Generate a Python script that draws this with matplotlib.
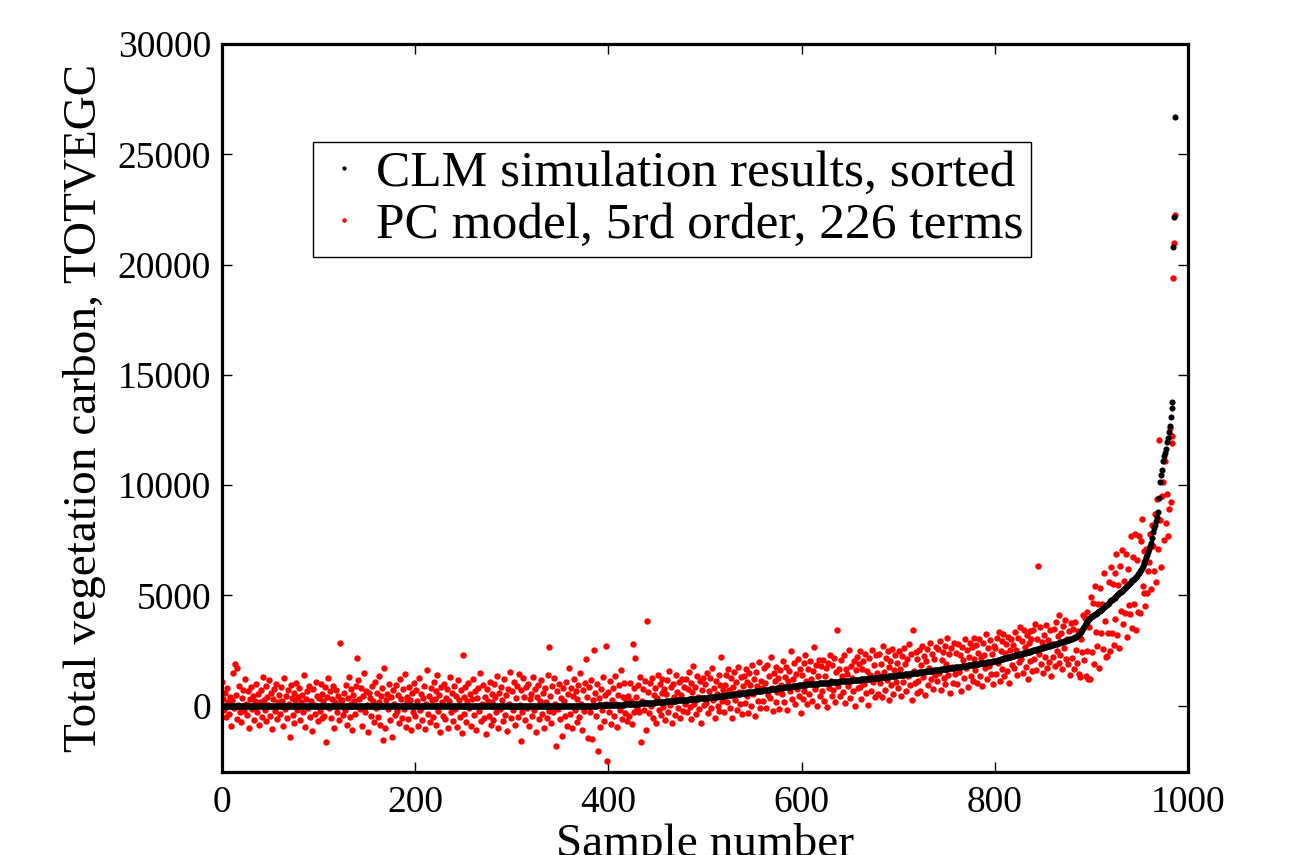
import numpy as np
import matplotlib
matplotlib.use("Agg")
import matplotlib.pyplot as plt

plt.rcParams["font.family"] = ["Liberation Serif", "DejaVu Serif"]

# CLM TOTVEGC per sample, sorted
CLM_SORTED = [
    0, 0, 0, 0, 0, 0, 0, 0, 0, 0, 0, 0, 0, 0, 0, 0, 0, 0, 0, 0,
    0, 0, 0, 0, 0, 0, 0, 0, 0, 0, 0, 0, 0, 0, 0, 0, 0, 0, 0, 0,
    0, 0, 0, 0, 0, 0, 0, 0, 0, 0, 0, 0, 0, 0, 0, 0, 0, 0, 0, 0,
    0, 0, 0, 0, 0, 0, 0, 0, 0, 0, 0, 0, 0, 0, 0, 0, 0, 0, 0, 0,
    0, 0, 0, 0, 0, 0, 0, 0, 0, 0, 0, 0, 0, 0, 0, 0, 0, 0, 0, 0,
    0, 0, 0, 0, 0, 0, 0, 0, 0, 0, 0, 0, 0, 0, 0, 0, 0, 0, 0, 0,
    0, 0, 0, 0, 0, 0, 0, 0, 0, 0, 0, 0, 0, 0, 0, 0, 0, 0, 0, 0,
    0, 0, 0, 0, 0, 0, 0, 0, 0, 0, 0, 0, 0, 0, 0, 0, 0, 0, 0, 0,
    0, 0, 0, 0, 0, 0, 0, 0, 0, 0, 0, 0, 0, 0, 0, 0, 0, 0, 0, 0,
    0, 0, 0, 0, 0, 0, 0, 0, 0, 0, 0, 0, 0, 0, 0, 0, 0, 0, 0, 0,
    0, 0, 0, 0, 0, 0, 0, 0, 0, 0, 0, 0, 0, 0, 0, 0, 0, 0, 0, 0,
    0, 0, 0, 0, 0, 0, 0, 0, 0, 0, 0, 0, 0, 0, 0, 0, 0, 0, 0, 0,
    0, 0, 0, 0, 0, 0, 0, 0, 0, 0, 0, 0, 0, 0, 0, 0, 0, 0, 0, 0,
    0, 0, 0, 0, 0, 0, 0, 0, 0, 0, 0, 0, 0, 0, 0, 0, 0, 0, 0, 0,
    0, 0, 0, 0, 0, 0, 0, 0, 0, 0, 0, 0, 0, 0, 0, 0, 0, 0, 0, 0,
    0, 0, 0, 0, 0, 0, 0, 0, 0, 0, 0, 0, 0, 0, 0, 0, 0, 0, 0, 0,
    0, 0, 0, 0, 0, 0, 0, 0, 0, 0, 0, 0, 0, 0, 0, 0, 0, 0, 0, 0,
    0, 0, 0, 0, 0, 0, 0, 0, 0, 0, 0, 0, 0, 0, 0, 0, 0, 0, 0, 0,
    0, 0, 0, 1, 1, 1, 2, 2, 2, 3, 3, 3, 4, 4, 5, 5, 6, 6, 7, 7,
    8, 8, 9, 10, 10, 11, 12, 13, 13, 14, 15, 16, 17, 18, 19, 20, 21, 22, 23, 24,
    25, 27, 29, 31, 33, 35, 37, 39, 41, 43, 45, 47, 49, 51, 53, 55, 57, 59, 61, 63,
    66, 69, 72, 75, 78, 81, 84, 87, 90, 93, 96, 99, 102, 105, 108, 111, 114, 117, 120, 123,
    126, 129, 132, 135, 138, 141, 144, 147, 150, 153, 157, 161, 165, 169, 173, 177, 181, 185, 189, 193,
    197, 201, 205, 209, 213, 217, 221, 225, 229, 233, 237, 241, 245, 249, 253, 257, 261, 265, 269, 273,
    277, 281, 285, 289, 293, 297, 301, 305, 309, 313, 317, 321, 325, 329, 333, 337, 341, 345, 349, 353,
    358, 363, 368, 373, 378, 383, 388, 393, 398, 403, 408, 413, 418, 423, 428, 433, 438, 443, 448, 453,
    459, 465, 471, 477, 483, 489, 495, 501, 507, 513, 519, 525, 531, 537, 543, 549, 555, 561, 567, 573,
    579, 585, 591, 597, 603, 609, 615, 621, 627, 633, 639, 645, 651, 657, 663, 669, 675, 681, 687, 693,
    699, 705, 711, 717, 723, 729, 735, 741, 747, 753, 759, 765, 771, 777, 783, 789, 795, 801, 807, 813,
    819, 825, 831, 837, 843, 849, 855, 861, 867, 873, 879, 885, 891, 897, 903, 909, 915, 921, 927, 933,
    938, 943, 948, 953, 958, 962, 966, 970, 974, 978, 982, 986, 990, 994, 998, 1002, 1006, 1010, 1014, 1018,
    1022, 1026, 1030, 1034, 1038, 1042, 1046, 1050, 1054, 1058, 1062, 1066, 1070, 1074, 1078, 1082, 1086, 1090, 1094, 1098,
    1102, 1106, 1110, 1114, 1118, 1122, 1126, 1130, 1134, 1138, 1142, 1146, 1150, 1154, 1158, 1162, 1166, 1170, 1174, 1178,
    1182, 1187, 1192, 1197, 1202, 1207, 1212, 1217, 1222, 1227, 1232, 1237, 1242, 1247, 1252, 1257, 1262, 1267, 1272, 1277,
    1282, 1287, 1292, 1297, 1302, 1307, 1312, 1317, 1322, 1327, 1332, 1337, 1342, 1347, 1352, 1357, 1362, 1367, 1372, 1377,
    1382, 1388, 1394, 1400, 1406, 1412, 1418, 1424, 1430, 1436, 1442, 1448, 1454, 1460, 1466, 1472, 1478, 1484, 1490, 1496,
    1502, 1508, 1514, 1520, 1526, 1532, 1538, 1544, 1550, 1556, 1562, 1568, 1574, 1580, 1586, 1592, 1598, 1604, 1610, 1616,
    1622, 1628, 1634, 1640, 1646, 1652, 1658, 1664, 1670, 1676, 1682, 1688, 1694, 1700, 1706, 1712, 1718, 1724, 1730, 1736,
    1743, 1750, 1757, 1764, 1771, 1778, 1785, 1792, 1799, 1806, 1813, 1820, 1827, 1834, 1841, 1848, 1855, 1862, 1869, 1876,
    1883, 1890, 1897, 1904, 1911, 1918, 1925, 1932, 1939, 1946, 1953, 1960, 1967, 1974, 1981, 1988, 1995, 2002, 2009, 2016,
    2028, 2040, 2052, 2064, 2076, 2088, 2100, 2112, 2124, 2136, 2148, 2160, 2172, 2184, 2196, 2208, 2220, 2232, 2244, 2256,
    2268, 2280, 2292, 2304, 2316, 2328, 2340, 2352, 2364, 2376, 2388, 2400, 2412, 2424, 2436, 2448, 2460, 2472, 2484, 2496,
    2508, 2521, 2534, 2547, 2560, 2573, 2586, 2599, 2612, 2625, 2638, 2651, 2664, 2677, 2690, 2703, 2716, 2729, 2742, 2755,
    2768, 2781, 2794, 2807, 2820, 2833, 2846, 2859, 2872, 2885, 2898, 2913, 2928, 2943, 2958, 2973, 2988, 3003, 3018, 3033,
    3050, 3070, 3090, 3110, 3130, 3160, 3190, 3230, 3280, 3350, 3430, 3510, 3590, 3670, 3740, 3800, 3850, 3900, 3950, 3990,
    4020, 4050, 4080, 4110, 4140, 4170, 4200, 4240, 4280, 4310, 4350, 4390, 4430, 4470, 4510, 4550, 4590, 4630, 4680, 4730,
    4780, 4810, 4840, 4870, 4900, 4940, 4980, 5020, 5060, 5100, 5140, 5180, 5220, 5260, 5300, 5340, 5380, 5430, 5480, 5530,
    5580, 5630, 5680, 5720, 5760, 5800, 5850, 5900, 5960, 6020, 6090, 6160, 6240, 6330, 6420, 6520, 6620, 6730, 6850, 6970,
    7100, 7230, 7400, 7600, 7870, 8050, 8200, 8360, 8560, 8770, 9400, 10130, 10450, 10710, 11080, 11300, 11450, 11620, 11940, 12150,
    12400, 12660, 13100, 13520, 13790, 20800, 22150, 26700,
]

# PC surrogate prediction for the same samples (red dots)
PC_MODEL = [
    1100, 300, -200, 600, -500, 800, 150, -350, 400, -900, 250, 1500, -100, 1900, 500, -600, 1700, 50, 900, -300,
    -750, 350, 700, -250, 1200, 100, -400, 650, -1000, 300, 850, -150, 450, -650, 200, 1000, -300, 550, -850, 150,
    700, -500, 1300, 250, -200, 900, -700, 400, 50, 1150, -450, 600, -1050, 300, 750, -250, 1000, -600, 150, 500,
    -350, 850, 200, -900, 1250, -150, 450, -550, 700, 100, -1400, 950, 350, -400, 600, -800, 250, 1050, -200, 400,
    800, -650, 150, 500, -300, 1400, -950, 300, 650, -100, 900, -500, 200, -1150, 750, 50, -350, 1100, 450, -700,
    350, -250, 1000, -550, 550, 200, -450, 850, -1630, 400, 1250, -100, 650, -550, 300, 900, -1000, 150, 700, -300,
    450, -650, 2850, 250, 250, -400, 600, -200, 950, -850, 350, 1300, -500, 100, 750, -1100, 500, 200, -350, 900,
    2170, 1150, 300, -150, 800, -900, 450, 1500, -300, 650, 50, -1200, 600, 350, -450, 900, 200, -750, 1100, -100,
    600, -500, 1350, 150, -850, 450, 800, -1540, 1700, -1000, 250, 550, -150, 1000, -650, 400, -1400, 700, 100, -400,
    950, -250, 500, -800, 1200, 300, -550, 750, -150, 1450, -950, 400, 150, -600, 850, 250, -1100, 600, -300, 1050,
    -450, 700, 200, -900, 1250, -200, 550, -650, 350, 900, -1050, 100, 1600, -350, 450, -750, 800, 250, -500, 1100,
    300, -850, 650, 1400, -250, 500, -1200, 850, 150, -450, 1000, -600, 350, 750, -1000, 200, 1300, -300, 600, -700,
    900, -150, 450, -950, 1150, 250, -500, 700, -1250, 2300, 400, -350, 850, -750, 200, 1050, -100, 550, -900, 300,
    1200, -400, 650, -1100, 350, 800, -250, 1500, -700, 100, 950, -550, 400, -1300, 750, 200, -450, 1100, -850, 550,
    150, -650, 1000, 400, -300, 1350, -1000, 600, -150, 850, 250, -700, 1200, -400, 500, -1150, 750, 100, 1550, -550,
    650, -200, 1100, -850, 350, 900, -500, 1450, 50, -1600, 700, -300, 1250, 400, -650, 850, -100, 1000, -900, 300,
    550, -450, 1300, -200, 750, -1200, 400, 950, -600, 200, 1150, -350, 600, -1000, 800, 150, -550, 1400, -250, 2650,
    450, -800, 900, -300, 1250, 100, -1800, 650, -150, 1000, -600, 350, -1350, 800, 200, -450, 1100, -900, 550, 1700,
    -350, 800, -1000, 450, 1200, -200, 650, -750, 300, 950, -500, 1500, 100, -1100, 700, -250, 1050, 2120, 400, -1450,
    850, -300, 1150, -1500, 250, 2550, 600, -450, 1000, -2030, 350, -950, 750, -200, 1300, -700, 500, 100, 2700, -2490,
    645, -270, 1130, -820, 285, 785, -465, 1340, 90, -955, 495, 945, -200, 1600, -600, 405, 1055, -340, 260, -690,
    466, -481, 1022, 225, -822, 2811, -266, 787, 2160, 393, -104, 949, -298, 1305, -1642, 211, 764, -183, 1120, -1107,
    3846, 629, -318, 1035, -12, 1241, -556, 497, 800, -797, 357, 1411, -185, 969, -427, 577, 1231, -64, 739, -657,
    535, 1185, -265, 1585, 35, 835, -765, 985, 385, -415, 1385, 635, -115, 1085, -565, 485, 1235, -215, 835, 85,
    1215, -285, 765, 1515, -35, 1015, -585, 615, 1815, 65, 865, -385, 1365, 415, -135, 1115, -785, 715, 1265, 15,
    1005, 105, 1505, -345, 655, 1255, -95, 1705, 255, 805, -545, 1105, 555, 5, 1405, -245, 955, 2205, 205, 705,
    -285, 965, 1415, 165, 1665, 715, -85, 1265, -535, 865, 1515, 265, 1065, -185, 1765, 615, 65, 1315, -385, 915,
    1335, 135, 1685, 435, 1085, -315, 1485, 935, -15, 1835, 535, 1235, -465, 1535, 885, 235, 1985, -115, 1135, 785,
    205, 1705, 1055, -95, 1855, 505, 1355, 355, 2205, 805, -245, 1505, 1105, 155, 1755, 605, 1255, -145, 1605, 955,
    525, 2025, 175, 1325, 1775, -175, 1125, 1575, 675, 2475, 325, 1225, 1925, 75, 1425, 775, 2125, 425, 1675, -325,
    1380, 330, 1930, 680, 2280, 1130, 80, 1680, 530, 2030, 1230, 230, 1580, 2680, 780, 1830, -20, 1330, 2080, 430,
    1810, 660, 2060, 210, 1360, 1710, -40, 1960, 810, 2310, 1110, 460, 1860, 710, 2160, 160, 1510, 3440, 910, 1660,
    440, 2090, 1340, 640, 2290, 140, 1690, 1440, 890, 2540, 340, 1790, 1240, 690, 2040, -10, 1640, 2190, 790, 1890,
    830, 2480, 330, 1680, 2030, 980, 2330, 580, 1580, 30, 2180, 1380, 680, 2530, 1080, 1830, 380, 2280, 1480, 530,
    2330, 1030, 1880, 380, 2730, 1530, 730, 2180, 1180, 2480, 280, 1780, 2030, 930, 2580, 530, 1630, 2280, 1080, 1930,
    790, 2490, 1690, 440, 2240, 1090, 2640, 1890, 690, 2140, 1340, 2790, 940, 2340, 240, 3440, 1590, 1040, 2440, 590,
    2110, 1110, 2510, 660, 1860, 2710, 1310, 2260, 510, 2010, 2560, 960, 1710, 2860, 1210, 2360, 760, 2110, 1410, 2660,
    1130, 2580, 1480, 2930, 730, 2080, 2430, 1280, 2730, 980, 1880, 3080, 1380, 2330, 580, 2630, 1780, 1030, 2830, 1430,
    2410, 1010, 2810, 1510, 2310, 660, 2660, 2060, 1260, 3010, 1710, 2510, 860, 2210, 2860, 1360, 2660, 1110, 2110, 3060,
    1600, 2750, 1050, 2400, 3050, 1350, 2150, 900, 2850, 2300, 1700, 3250, 1200, 2600, 1800, 3000, 1450, 2350, 1000, 2700,
    2640, 1440, 3090, 1940, 3340, 1140, 2490, 2940, 1690, 3240, 1340, 2390, 2790, 1590, 3140, 1040, 2540, 3040, 1840, 2740,
    1730, 3330, 2530, 1380, 3080, 1980, 3580, 2130, 2930, 1480, 3430, 2680, 1780, 3230, 1230, 2830, 3380, 2030, 3030, 1580,
    3430, 2130, 3730, 1630, 3030, 6330, 2330, 3580, 1880, 2880, 1480, 3230, 2230, 3680, 1730, 2980, 1980, 3430, 1330, 2780,
    2200, 3500, 1800, 3800, 2500, 3150, 1950, 4100, 2300, 3300, 1650, 3600, 2600, 3900, 2100, 3050, 1900, 3400, 1400, 3750,
    2150, 3470, 1690, 3810, 2530, 1960, 3390, 1430, 1310, 3050, 2430, 4110, 2090, 3970, 1360, 2500, 4250, 1200, 3550, 1220,
    4920, 2450, 4680, 1910, 5440, 3365, 2690, 4610, 1730, 5350, 3290, 4630, 2570, 6010, 3850, 2200, 2260, 3280, 5620, 2490,
    6280, 3300, 5520, 2760, 6000, 3940, 6880, 3220, 5460, 2600, 6350, 4300, 7050, 3700, 5660, 4220, 6880, 3140, 6200, 4570,
    4140, 7690, 3520, 6750, 4610, 7770, 3430, 6600, 4270, 7690, 4210, 7490, 8450, 5450, 7030, 5120, 4510, 7100, 5100, 6100,
    6500, 7800, 5300, 8200, 7230, 6100, 8700, 5600, 9360, 7100, 12070, 8400, 6300, 9500, 10130, 7500, 11080, 8300, 9580, 7690,
    8900, 12610, 9220, 12250, 11930, 19400, 20980, 22240,
]

LABELS = ["CLM simulation results, sorted", "PC model, 5rd order, 226 terms"]
X_TICKS = [0, 200, 400, 600, 800, 1000]
Y_TICKS = [0, 5000, 10000, 15000, 20000, 25000, 30000]

fig = plt.figure(figsize=(13, 8.55), dpi=100)
ax = fig.add_axes([0.1708, 0.0971, 0.743, 0.8515])

# black drawn over the red cloud so the sorted curve stays visible
ax.plot(np.arange(len(CLM_SORTED)), CLM_SORTED, "o", color="black",
        ms=4.4, mew=0, label=LABELS[0], zorder=3)
ax.plot(np.arange(len(PC_MODEL)), PC_MODEL, "o", color="red",
        ms=4.6, mew=0, label=LABELS[1], zorder=2)

ax.set_xlim(0, 1000)
ax.set_ylim(-3000, 30000)
ax.set_xticks(X_TICKS)
ax.set_yticks(Y_TICKS)
ax.tick_params(direction="in", length=7, width=1, top=True, right=True, labelsize=27)
ax.tick_params(axis="x", pad=10)
ax.tick_params(axis="y", pad=8)
for sp in ax.spines.values():
    sp.set_linewidth(2.3)

ax.set_xlabel("Sample number", fontsize=34, labelpad=2)
ax.set_ylabel("Total vegetation carbon, TOTVEGC", fontsize=34, labelpad=8)

leg = ax.legend(loc="upper left", bbox_to_anchor=(0.094, 0.865), borderaxespad=0,
                fontsize=37, frameon=True, fancybox=False, framealpha=1,
                edgecolor="black", handlelength=0.9, handletextpad=0.18,
                borderpad=0.15, labelspacing=0.1, numpoints=1, markerscale=0.7)
leg.get_frame().set_linewidth(1.0)
leg.set_zorder(5)

fig.savefig("out.png", dpi=100)
